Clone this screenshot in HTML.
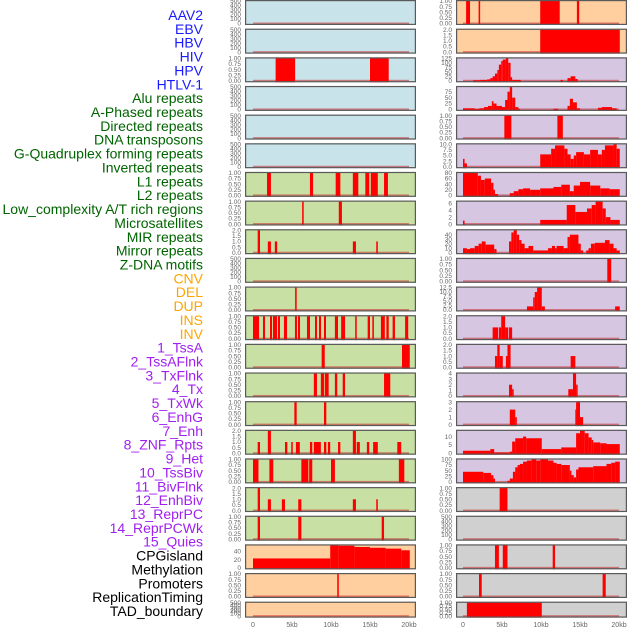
<!DOCTYPE html>
<html><head><meta charset="utf-8"><style>
html,body{margin:0;padding:0;background:#fff;}
svg{display:block;font-family:"Liberation Sans",sans-serif;}
</style></head><body>
<svg id="chart" width="630" height="630" viewBox="0 0 630 630" xmlns="http://www.w3.org/2000/svg"></svg>
<script>
// ---- labels ----
const trackLabels = ["AAV2","EBV","HBV","HIV","HPV","HTLV-1","Alu repeats","A-Phased repeats","Directed repeats","DNA transposons","G-Quadruplex forming repeats","Inverted repeats","L1 repeats","L2 repeats","Low_complexity A/T rich regions","Microsatellites","MIR repeats","Mirror repeats","Z-DNA motifs","CNV","DEL","DUP","INS","INV","1_TssA","2_TssAFlnk","3_TxFlnk","4_Tx","5_TxWk","6_EnhG","7_Enh","8_ZNF_Rpts","9_Het","10_TssBiv","11_BivFlnk","12_EnhBiv","13_ReprPC","14_ReprPCWk","15_Quies","CPGisland","Methylation","Promoters","ReplicationTiming","TAD_boundary"];
const labelColors = ["#1a1aff","#1a1aff","#1a1aff","#1a1aff","#1a1aff","#1a1aff","#006400","#006400","#006400","#006400","#006400","#006400","#006400","#006400","#006400","#006400","#006400","#006400","#006400","#ffa500","#ffa500","#ffa500","#ffa500","#ffa500","#a020f0","#a020f0","#a020f0","#a020f0","#a020f0","#a020f0","#a020f0","#a020f0","#a020f0","#a020f0","#a020f0","#a020f0","#a020f0","#a020f0","#a020f0","#000","#000","#000","#000","#000"];
const xTickValues = [0,5,10,15,20];
const xTickLabels = ["0","5kb","10kb","15kb","20kb"];

// ---- data: segments [startKb, endKb, value] ----
const L_hbv = [[2.9,5.4,1],[15.0,17.4,1]];
const L_alu = [[1.8,2.3,1],[7.3,7.7,1],[10.6,11.2,1],[12.8,13.5,1],[14.4,14.9,1],[15.1,16.0,1],[16.8,17.3,1]];
const L_aphased = [[6.3,6.5,1],[11.0,11.4,1]];
const L_directed = [[0.6,0.9,2],[1.9,2.3,1],[2.8,3.1,1],[12.8,13.2,1],[15.8,16.0,1]];
const L_gquad = [[5.4,5.6,1]];
const L_inverted = [[0,0.77,1],[1.28,1.54,1],[2.18,2.44,1],[2.56,3.08,1],[3.2,3.46,1],[3.97,4.36,1],[5.38,5.64,1],[5.77,6.03,1],[6.92,7.31,1],[7.95,8.2,1],[8.46,8.72,1],[9.1,9.36,1],[10.5,10.9,1],[11.3,11.8,1],[13.1,13.3,1],[14.7,15.0,1],[15.3,15.5,1],[16.4,16.9,1],[17.1,17.4,1],[17.9,18.2,1],[19.5,19.9,1]];
const L_l1 = [[8.8,9.2,1],[19.1,20.1,1]];
const L_l2 = [[7.8,8.2,1],[8.7,9.1,1],[9.2,9.7,1],[10.5,10.8,1],[11.5,11.8,1],[16.8,17.6,1]];
const L_lowc = [[5.3,5.6,1],[9.1,9.4,1]];
const L_micro = [[0.6,0.9,1],[1.9,2.3,2],[4.1,4.4,1],[4.9,5.1,1],[5.5,6.0,1],[7.3,7.6,1],[7.8,8.7,1],[9.1,9.4,1],[9.6,9.9,1],[10.9,11.2,1],[12.8,13.2,2],[13.3,13.7,1],[14.6,14.9,1],[15.4,16.0,1],[18.5,19.0,1]];
const L_mir = [[0,0.7,1],[2.1,2.6,1],[6.2,7.1,1],[7.2,7.6,1],[10.0,10.5,1],[18.7,19.4,1]];
const L_mirror = [[0.6,0.9,2],[1.9,2.3,1],[3.7,4.1,1],[5.8,6.2,1],[12.8,13.2,1],[15.8,16.0,1]];
const L_zdna = [[0.6,0.9,1],[5.8,6.2,1],[16.5,16.8,1]];
const L_cpg = [[0,9.9,23],[9.9,11,55],[11,13,54],[13,15,51],[15,17,49],[17,19,47],[19,20.1,43]];
const L_prom = [[10.8,11.0,1]];

const R_aav2 = [[0.4,0.9,1],[2.0,2.2,1],[9.9,12.4,1],[14.6,14.9,1]];
const R_ebv = [[9.9,20.1,2]];
const R_hiv = [[1.3,2.2,3],[2.2,3.1,5],[3.1,3.5,8],[3.5,3.8,15],[3.8,4.1,25],[4.1,4.4,40],[4.4,4.6,60],[4.6,4.9,90],[4.9,5.1,110],[5.1,5.5,118],[5.5,5.8,125],[5.8,6.1,100],[6.1,6.3,20],[6.3,7.4,5],[12.5,12.8,5],[13.4,13.8,15],[13.8,14.4,25],[14.4,14.7,10]];
const R_hpv = [[0,1.5,5],[1.5,2.1,2],[2.1,2.7,5],[2.7,3.2,10],[3.2,3.7,15],[3.7,3.9,35],[3.9,4.3,25],[4.3,5.0,15],[5.0,5.4,10],[5.4,5.7,40],[5.7,6.0,75],[6.0,6.3,95],[6.3,6.7,50],[6.7,7.1,10],[7.1,7.3,3],[11.6,12.2,3],[13.4,13.7,15],[13.7,14.1,45],[14.1,14.6,30],[14.6,15.0,5],[17.3,17.8,7],[17.8,19.1,10],[19.1,19.7,5]];
const R_htlv = [[5.3,6.2,1],[12.1,12.8,1]];
const R_alu = [[0,0.2,3.5],[0.2,0.5,1.5],[9.9,11.3,5.5],[11.3,11.8,8],[11.8,13.0,9.5],[13.0,13.4,8],[13.4,13.8,5.5],[13.8,14.2,3.5],[14.2,14.5,5],[14.5,15.5,6.5],[15.5,16.3,5.5],[16.3,17.3,7.5],[17.3,17.8,5.5],[17.8,18.2,7.5],[18.2,19.3,9.5],[19.3,19.7,10],[19.7,20.1,8]];
const R_aphased = [[0,1.9,80],[1.9,2.3,70],[2.3,2.8,55],[2.8,3.6,60],[3.6,3.9,45],[3.9,4.1,20],[4.1,4.5,5],[6.0,6.5,8],[6.5,7.1,15],[7.1,7.7,22],[7.7,8.6,25],[8.6,9.9,20],[9.9,11.6,25],[11.6,12.6,30],[12.6,13.7,38],[13.7,14.2,15],[14.2,15.0,35],[15.0,16.3,48],[16.3,17.6,35],[17.6,18.8,25],[18.8,20.1,22]];
const R_directed = [[0,0.2,1],[9.9,13.3,1.2],[13.3,14.4,5.5],[14.4,15.9,3.5],[15.9,16.5,4.5],[16.5,17.0,5.5],[17.0,17.9,6.5],[17.9,18.3,4.5],[18.3,18.9,2],[18.9,20.1,1.2]];
const R_dna = [[0,0.5,10],[0.5,0.9,8],[0.9,1.5,10],[1.5,2.0,15],[2.0,2.4,20],[2.4,2.9,25],[2.9,4.0,18],[4.0,4.3,8],[5.9,6.2,25],[6.2,6.5,45],[6.5,6.9,50],[6.9,7.2,40],[7.2,7.5,28],[7.5,7.9,20],[7.9,8.4,10],[8.4,9.0,15],[9.0,10.9,5],[10.9,11.4,10],[11.4,11.8,15],[11.8,12.0,10],[12.0,12.9,15],[12.9,13.4,10],[13.4,13.7,35],[13.7,14.8,40],[14.8,15.1,20],[15.1,15.4,5],[15.8,16.1,5],[16.1,16.4,10],[16.4,16.9,20],[16.9,18.2,22],[18.2,18.8,28],[18.8,19.3,20],[19.3,19.7,10],[19.7,20.1,5]];
const R_gquad = [[18.5,19.0,1]];
const R_inverted = [[8.2,9.0,2],[9.0,9.2,7],[9.2,9.5,10],[9.5,10.1,12.5],[10.1,10.5,2],[19.5,20.1,2]];
const R_l1 = [[3.8,4.5,1],[4.6,4.9,1],[4.9,5.4,2],[5.4,5.8,1],[5.9,6.3,1]];
const R_l2 = [[4.1,4.4,1],[4.4,4.7,2],[4.7,5.1,1],[5.5,5.7,1],[5.7,6.1,2],[13.8,14.4,1]];
const R_lowc = [[5.9,6.3,2],[6.3,6.5,1.2],[13.5,14.1,1.2],[14.1,14.5,4],[14.5,14.7,2]];
const R_micro = [[6.0,6.7,2],[6.7,6.9,1],[14.4,14.5,2],[14.5,15.0,3],[15.0,15.4,1]];
const R_mir = [[0,3.5,1.5],[3.5,4.0,2.5],[4.0,6.0,0.5],[6.0,6.3,1],[6.3,6.7,7],[6.7,7.7,9],[7.7,8.1,10],[8.1,10.1,9],[10.1,12.6,2.5],[12.6,14.5,3.5],[14.5,15.0,12],[15.0,15.6,13.5],[15.6,16.1,12],[16.1,16.5,9.5],[16.5,16.7,8],[16.7,17.6,6.5],[17.6,18.4,6],[18.4,20.1,5.5]];
const R_mirror = [[0,2.6,45],[2.6,3.6,40],[3.6,3.9,30],[3.9,4.1,15],[5.7,6.0,5],[6.0,6.4,15],[6.4,6.7,45],[6.7,7.0,65],[7.0,7.3,75],[7.3,7.7,80],[7.7,8.2,90],[8.2,8.8,95],[8.8,9.4,100],[9.4,9.9,95],[9.9,10.9,100],[10.9,11.6,95],[11.6,12.0,85],[12.0,12.6,80],[12.6,13.7,75],[13.7,13.9,50],[13.9,14.2,30],[14.2,14.5,20],[14.5,14.8,55],[14.8,16.7,65],[16.7,18.4,70],[18.4,19.0,80],[19.0,19.5,85],[19.5,20.1,90]];
const R_zdna = [[4.7,5.7,1]];
const R_cpg = [[4.1,4.6,1],[5.1,5.7,1],[11.5,11.8,1]];
const R_meth = [[2.05,2.4,1],[17.9,18.3,1]];
const R_prom = [[0.5,10.1,1]];

// ---- tick sets ----
const t01 = [[0,"0.00"],[0.25,"0.25"],[0.5,"0.50"],[0.75,"0.75"],[1,"1.00"]];
const t500 = [[0,"0"],[100,"100"],[200,"200"],[300,"300"],[400,"400"],[500,"500"]];
const t2 = [[0,"0.0"],[0.5,"0.5"],[1,"1.0"],[1.5,"1.5"],[2,"2.0"]];

const BLUE="#c8e3ea", GREEN="#c8e0a4", ORANGE="#ffcf9f", PURPLE="#d6c6e2", GRAY="#d0d0d0";
const panels = [
 {c:0,r:0,bg:BLUE,ymax:500,t:t500,d:[],n:"aav2"},
 {c:0,r:1,bg:BLUE,ymax:500,t:t500,d:[],n:"ebv"},
 {c:0,r:2,bg:BLUE,ymax:1,t:t01,d:L_hbv,n:"hbv"},
 {c:0,r:3,bg:BLUE,ymax:500,t:t500,d:[],n:"hiv"},
 {c:0,r:4,bg:BLUE,ymax:500,t:t500,d:[],n:"hpv"},
 {c:0,r:5,bg:BLUE,ymax:500,t:t500,d:[],n:"htlv"},
 {c:0,r:6,bg:GREEN,ymax:1,t:t01,d:L_alu,n:"alu"},
 {c:0,r:7,bg:GREEN,ymax:1,t:t01,d:L_aphased,n:"aphased"},
 {c:0,r:8,bg:GREEN,ymax:2,t:t2,d:L_directed,n:"directed"},
 {c:0,r:9,bg:GREEN,ymax:500,t:t500,d:[],n:"dna-transposons"},
 {c:0,r:10,bg:GREEN,ymax:1,t:t01,d:L_gquad,n:"gquad"},
 {c:0,r:11,bg:GREEN,ymax:1,t:t01,d:L_inverted,n:"inverted"},
 {c:0,r:12,bg:GREEN,ymax:1,t:t01,d:L_l1,n:"l1"},
 {c:0,r:13,bg:GREEN,ymax:1,t:t01,d:L_l2,n:"l2"},
 {c:0,r:14,bg:GREEN,ymax:1,t:t01,d:L_lowc,n:"low-complexity"},
 {c:0,r:15,bg:GREEN,ymax:2,t:t2,d:L_micro,n:"microsatellites"},
 {c:0,r:16,bg:GREEN,ymax:1,t:t01,d:L_mir,n:"mir"},
 {c:0,r:17,bg:GREEN,ymax:2,t:t2,d:L_mirror,n:"mirror"},
 {c:0,r:18,bg:GREEN,ymax:1,t:t01,d:L_zdna,n:"zdna"},
 {c:0,r:19,bg:ORANGE,ymax:55,t:[[0,"0"],[20,"20"],[40,"40"]],d:L_cpg,n:"cpgisland"},
 {c:0,r:20,bg:ORANGE,ymax:1,t:t01,d:L_prom,n:"promoters"},
 {c:0,r:21,bg:ORANGE,ymax:500,t:t500,d:[],n:"tad"},
 {c:1,r:0,bg:ORANGE,ymax:1,t:t01,d:R_aav2,n:"aav2"},
 {c:1,r:1,bg:ORANGE,ymax:2,t:t2,d:R_ebv,n:"ebv"},
 {c:1,r:2,bg:PURPLE,ymax:125,t:[[0,"0"],[25,"25"],[50,"50"],[75,"75"],[100,"100"],[125,"125"]],d:R_hiv,n:"hiv"},
 {c:1,r:3,bg:PURPLE,ymax:95,t:[[0,"0"],[25,"25"],[50,"50"],[75,"75"]],d:R_hpv,n:"hpv"},
 {c:1,r:4,bg:PURPLE,ymax:1,t:t01,d:R_htlv,n:"htlv"},
 {c:1,r:5,bg:PURPLE,ymax:10,t:[[0,"0.0"],[2.5,"2.5"],[5,"5.0"],[7.5,"7.5"],[10,"10.0"]],d:R_alu,n:"alu"},
 {c:1,r:6,bg:PURPLE,ymax:80,t:[[0,"0"],[20,"20"],[40,"40"],[60,"60"],[80,"80"]],d:R_aphased,n:"aphased"},
 {c:1,r:7,bg:PURPLE,ymax:6.5,t:[[0,"0"],[2,"2"],[4,"4"],[6,"6"]],d:R_directed,n:"directed"},
 {c:1,r:8,bg:PURPLE,ymax:50,t:[[0,"0"],[10,"10"],[20,"20"],[30,"30"],[40,"40"]],d:R_dna,n:"dna-transposons"},
 {c:1,r:9,bg:PURPLE,ymax:1,t:t01,d:R_gquad,n:"gquad"},
 {c:1,r:10,bg:PURPLE,ymax:12.5,t:[[0,"0.0"],[2.5,"2.5"],[5,"5.0"],[7.5,"7.5"],[10,"10.0"],[12.5,"12.5"]],d:R_inverted,n:"inverted"},
 {c:1,r:11,bg:PURPLE,ymax:2,t:t2,d:R_l1,n:"l1"},
 {c:1,r:12,bg:PURPLE,ymax:2,t:t2,d:R_l2,n:"l2"},
 {c:1,r:13,bg:PURPLE,ymax:4,t:[[0,"0"],[1,"1"],[2,"2"],[3,"3"],[4,"4"]],d:R_lowc,n:"low-complexity"},
 {c:1,r:14,bg:PURPLE,ymax:3,t:[[0,"0"],[1,"1"],[2,"2"],[3,"3"]],d:R_micro,n:"microsatellites"},
 {c:1,r:15,bg:PURPLE,ymax:13.5,t:[[0,"0"],[5,"5"],[10,"10"]],d:R_mir,n:"mir"},
 {c:1,r:16,bg:PURPLE,ymax:100,t:[[0,"0"],[25,"25"],[50,"50"],[75,"75"],[100,"100"]],d:R_mirror,n:"mirror"},
 {c:1,r:17,bg:GRAY,ymax:1,t:t01,d:R_zdna,n:"zdna"},
 {c:1,r:18,bg:GRAY,ymax:500,t:t500,d:[],n:"cnv"},
 {c:1,r:19,bg:GRAY,ymax:1,t:t01,d:R_cpg,n:"cpgisland"},
 {c:1,r:20,bg:GRAY,ymax:1,t:t01,d:R_meth,n:"methylation"},
 {c:1,r:21,bg:GRAY,ymax:1,t:t01,d:R_prom,n:"tad"}
];

const NS="http://www.w3.org/2000/svg";
const svg=document.getElementById("chart");
function mk(tag,attrs,parent){const e=document.createElementNS(NS,tag);for(const k in attrs)e.setAttribute(k,attrs[k]);(parent||svg).appendChild(e);return e;}
const X0=[253,463], PXKB=7.8, PL=[245,456], PW=171;
function xScale(c,kb){return X0[c]+kb*PXKB;}
function rowTop(r){return r*28.65;}
function rowH(r){return r===21?16:25;}
function yScale(p,v){const t=rowTop(p.r),h=rowH(p.r);return t+1+(1-v/p.ymax)*(h-2.5);}

// labels
const LBL_Y0=15, LBL_DY=(611-15)/43;
trackLabels.forEach((s,i)=>{
  const t=mk("text",{x:203,y:LBL_Y0+i*LBL_DY+5,"text-anchor":"end","font-size":"14",fill:labelColors[i]});
  t.textContent=s;
  
  
});

panels.forEach(p=>{
  const g=mk("g",{});
  
  
  const top=rowTop(p.r),h=rowH(p.r);
  mk("rect",{x:PL[p.c],y:top,width:PW,height:h,fill:p.bg},g);
  mk("rect",{x:xScale(p.c,0),y:yScale(p,0)-1,width:20*PXKB,height:2,fill:"rgba(200,40,40,0.55)"},g);
  p.d.forEach(seg=>{
    const x1=xScale(p.c,seg[0]),x2=xScale(p.c,seg[1]);
    const y=yScale(p,seg[2]);
    const b=mk("rect",{x:x1,y:y,width:Math.max(1,x2-x1),height:top+h-y,fill:"#ff0000"},g);
    
    
  });
  mk("rect",{x:PL[p.c]+0.6,y:top+0.6,width:PW-1.2,height:h-1.2,fill:"none",stroke:"#5a5a5a","stroke-width":"1.2"},g);
  p.t.forEach(tk=>{
    const tx=mk("text",{x:PL[p.c]-4,y:yScale(p,tk[0])+2.2,"text-anchor":"end","font-size":"6.5",fill:"#666"},g);
    tx.textContent=tk[1];
    
    
  });
});

[0,1].forEach(c=>{
  xTickValues.forEach((v,i)=>{
    const t=mk("text",{x:xScale(c,v),y:627,"text-anchor":"middle","font-size":"7",fill:"#666"});
    t.textContent=xTickLabels[i];
    
    
  });
});
</script>
</body></html>
